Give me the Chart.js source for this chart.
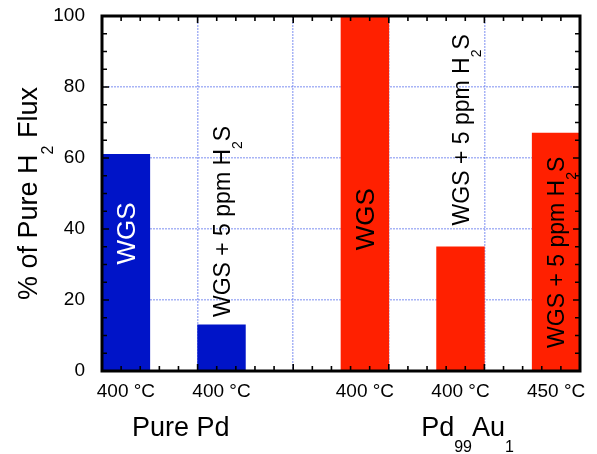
<!DOCTYPE html>
<html>
<head>
<meta charset="utf-8">
<script src="https://cdn.jsdelivr.net/npm/chart.js"></script>
<style>
  body { margin: 0; background: #fff; }
</style>
</head>
<body>
<canvas id="fluxChart" width="597" height="454"></canvas>
<script>
// one slot per half grid cell, empty slots are the gaps between bars
const slotLabels = ['400 °C', '', '400 °C', '', '', '400 °C', '', '400 °C', '', '450 °C'];
const fluxValues = [61, null, 13, null, null, 100, null, 35, null, 67];
const slotGroup = [0, 0, 0, 0, 1, 1, 1, 1, 1, 1];

const groupColors = ['#0014c8', '#ff2000'];
const FONT = "'Liberation Sans', Arial, sans-serif";

// [text, isSubscript]
const groupNames = [
  { center: 1, parts: [['Pure Pd', false]] },
  { center: 7, parts: [['Pd', false], ['99', true], ['Au', false], ['1', true]] },
];

const h2s = [['WGS + 5 ppm H', false], ['2', true], ['S', false]];
const barNotes = [
  { slot: 0, parts: [['WGS', false]], size: 26, color: '#fff', at: 30 },
  { slot: 2, parts: h2s, size: 23, color: '#000', at: 15.2 },
  { slot: 5, parts: [['WGS', false]], size: 26, color: '#000', at: 34 },
  { slot: 7, parts: h2s, size: 23, color: '#000', at: 41 },
  { slot: 9, parts: h2s, size: 23, color: '#000', at: 6.5 },
];

const GRID = 'rgba(110, 130, 240, 0.6)';

function partsWidth(ctx, parts, size, subSize) {
  let w = 0;
  for (const [t, sub] of parts) {
    ctx.font = `${sub ? subSize : size}px ${FONT}`;
    w += ctx.measureText(t).width;
  }
  return w;
}

function drawParts(ctx, parts, size, subSize, subShift) {
  let px = 0;
  for (const [t, sub] of parts) {
    ctx.font = `${sub ? subSize : size}px ${FONT}`;
    ctx.fillText(t, px, sub ? subShift : 0);
    px += ctx.measureText(t).width;
  }
}

const framePlugin = {
  id: 'frame',
  afterDatasetsDraw(chart) {
    const { ctx, chartArea: a, scales: { x, y } } = chart;
    ctx.save();

    // inward ticks on all four sides
    ctx.strokeStyle = '#000';
    ctx.lineWidth = 1.6;
    ctx.beginPath();
    const xStep = (a.right - a.left) / 25;
    for (let k = 1; k < 25; k++) {
      const px = a.left + k * xStep;
      const len = k % 5 === 0 ? 7 : 5;
      ctx.moveTo(px, a.bottom); ctx.lineTo(px, a.bottom - len);
      ctx.moveTo(px, a.top); ctx.lineTo(px, a.top + len);
    }
    for (let v = 5; v < 100; v += 5) {
      const py = y.getPixelForValue(v);
      const len = v % 20 === 0 ? 7 : 5;
      ctx.moveTo(a.left, py); ctx.lineTo(a.left + len, py);
      ctx.moveTo(a.right, py); ctx.lineTo(a.right - len, py);
    }
    ctx.stroke();

    ctx.lineWidth = 3;
    ctx.strokeRect(a.left, a.top, a.right - a.left, a.bottom - a.top);

    // rotated notes on the bars
    ctx.textBaseline = 'alphabetic';
    ctx.textAlign = 'left';
    for (const n of barNotes) {
      const cx = x.getPixelForValue(n.slot);
      const cy = y.getPixelForValue(n.at);
      ctx.save();
      ctx.fillStyle = n.color;
      ctx.translate(cx + n.size * 0.36, cy);
      ctx.rotate(-Math.PI / 2);
      drawParts(ctx, n.parts, n.size, 14, 12);
      ctx.restore();
    }

    // y axis title
    ctx.fillStyle = '#000';
    const title = [['% of Pure H', false], ['2', true], [' Flux', false]];
    const tw = partsWidth(ctx, title, 27, 16);
    ctx.save();
    ctx.translate(37, (a.top + a.bottom) / 2 + tw / 2);
    ctx.rotate(-Math.PI / 2);
    drawParts(ctx, title, 27, 16, 16);
    ctx.restore();

    // membrane names under the temperatures
    for (const g of groupNames) {
      const gw = partsWidth(ctx, g.parts, 27, 16);
      ctx.save();
      ctx.translate(x.getPixelForValue(g.center) + 7 - gw / 2, 436);
      drawParts(ctx, g.parts, 27, 16, 16);
      ctx.restore();
    }
    ctx.restore();
  }
};

new Chart(document.getElementById('fluxChart'), {
  type: 'bar',
  data: {
    labels: slotLabels,
    datasets: [{
      data: fluxValues,
      backgroundColor: slotGroup.map(g => groupColors[g]),
      borderWidth: 0,
      barPercentage: 1,
      categoryPercentage: 1,
    }],
  },
  options: {
    responsive: false,
    animation: false,
    layout: { padding: { left: 0, top: 16, right: 17, bottom: 0 } },
    plugins: { legend: { display: false }, tooltip: { enabled: false } },
    scales: {
      x: {
        afterFit: s => { s.height = 83; s.paddingLeft = 0; s.paddingRight = 0; },
        border: { display: false, dash: [2, 1] },
        grid: {
          drawTicks: false,
          lineWidth: 1.5,
          color: c => (c.index > 0 && c.index < slotLabels.length && c.index % 2 === 0) ? GRID : 'rgba(0,0,0,0)',
        },
        ticks: {
          autoSkip: false,
          maxRotation: 0,
          padding: 9,
          color: '#000',
          font: { family: FONT, size: 19 },
        },
      },
      y: {
        min: 0,
        max: 100,
        afterFit: s => { s.width = 102; s.paddingTop = 0; s.paddingBottom = 0; },
        border: { display: false, dash: [2, 1] },
        grid: {
          drawTicks: false,
          lineWidth: 1.5,
          color: c => (c.tick && c.tick.value > 0 && c.tick.value < 100) ? GRID : 'rgba(0,0,0,0)',
        },
        ticks: {
          stepSize: 20,
          padding: 17,
          color: '#000',
          font: { family: FONT, size: 19 },
        },
      },
    },
  },
  plugins: [framePlugin],
});
</script>
</body>
</html>
